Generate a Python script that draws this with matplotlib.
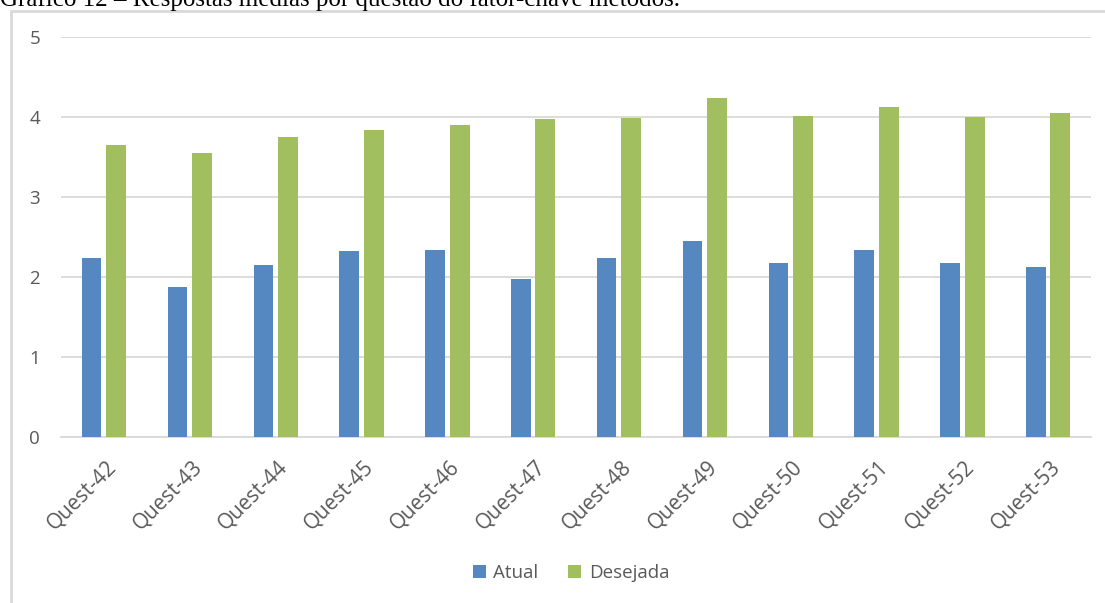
import numpy as np
import matplotlib.pyplot as plt
import matplotlib.transforms as mtransforms
from matplotlib.patches import Rectangle

questoes = ["Quest-42", "Quest-43", "Quest-44", "Quest-45", "Quest-46", "Quest-47",
            "Quest-48", "Quest-49", "Quest-50", "Quest-51", "Quest-52", "Quest-53"]
atual = [2.24, 1.88, 2.15, 2.33, 2.34, 1.97, 2.24, 2.45, 2.18, 2.34, 2.17, 2.13]
desejada = [3.65, 3.55, 3.75, 3.84, 3.90, 3.98, 3.99, 4.24, 4.01, 4.12, 4.00, 4.05]

plt.rcParams["font.family"] = ["Open Sans", "DejaVu Sans"]

fig = plt.figure(figsize=(11.05, 6.03), dpi=100)

# caption above the chart box (partly cut by the page edge)
fig.text(0.0, 1 - 6 / 603, "Gráfico 12 – Respostas médias por questão do fator-chave métodos.",
         family="Liberation Serif", fontsize=18, color="black", ha="left", va="baseline")

# chart border
fig.patches.append(Rectangle((11 / 1105, -0.01), 1.1, 1 - 11 / 603 + 0.01,
                             transform=fig.transFigure, fill=False,
                             edgecolor="#d9d9d9", linewidth=2))

ax = fig.add_axes([61 / 1105, 1 - 437 / 603, 1030 / 1105, 400 / 603])

x = np.arange(len(questoes))
ax.bar(x - 0.143, atual, width=0.227, color="#5588c1", label="Atual", zorder=3)
ax.bar(x + 0.143, desejada, width=0.233, color="#a1bf5f", label="Desejada", zorder=3)

ax.set_xlim(-0.5, len(questoes) - 0.5)
ax.set_ylim(0, 5)
ax.set_yticks([0, 1, 2, 3, 4, 5])
ax.yaxis.grid(True, color="#d9d9d9", linewidth=1.3, zorder=0)
ax.set_axisbelow(True)

for s in ["top", "right", "left"]:
    ax.spines[s].set_visible(False)
ax.spines["bottom"].set_color("#d9d9d9")
ax.spines["bottom"].set_linewidth(1.3)

ax.tick_params(axis="both", length=0, labelcolor="#595959")
ax.tick_params(axis="y", pad=15, labelsize=13.5)
ax.set_xticks(x)
ax.set_xticklabels(questoes, rotation=45, ha="right", va="center", rotation_mode="anchor",
                   fontsize=15)
offset = mtransforms.ScaledTranslation(9 / 100, -22 / 100, fig.dpi_scale_trans)
for lbl in ax.get_xticklabels():
    lbl.set_transform(lbl.get_transform() + offset)

leg = fig.legend(loc="center", bbox_to_anchor=(571 / 1105, 1 - 573 / 603), ncol=2,
                 frameon=False, fontsize=13.5, handlelength=0.7, handleheight=0.7,
                 handletextpad=0.4, columnspacing=1.6)
for t in leg.get_texts():
    t.set_color("#595959")

fig.savefig("out.png", dpi=100)
